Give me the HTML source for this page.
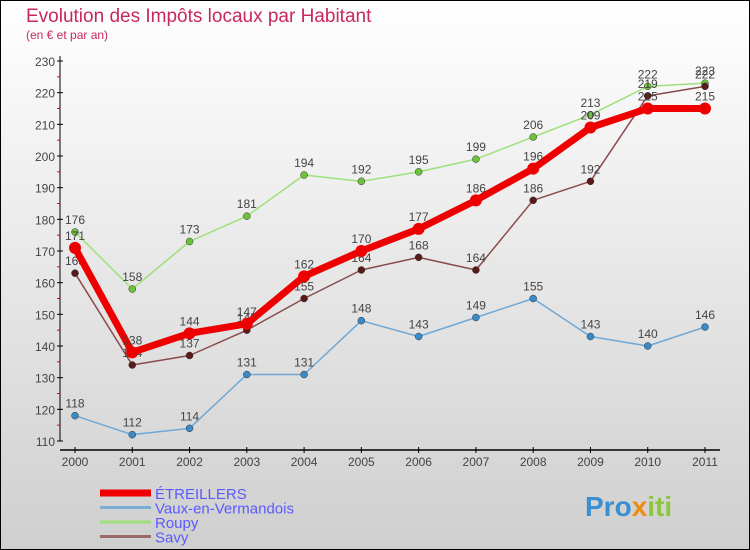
<!DOCTYPE html>
<html><head><meta charset="utf-8"><style>
body{margin:0}
svg{display:block;font-family:"Liberation Sans",sans-serif}
</style></head><body>
<svg id="c" width="750" height="550">
<defs><linearGradient id="bg" x1="0" y1="0" x2="0" y2="1"><stop offset="0" stop-color="#ffffff"/><stop offset="1" stop-color="#cfcfcf"/></linearGradient></defs>
<rect x="0.5" y="0.5" width="749" height="549" fill="url(#bg)" stroke="#000"/>
<text x="26" y="22" font-size="19" fill="#c8285a">Evolution des Impôts locaux par Habitant</text>
<text x="26" y="39" font-size="12" fill="#c8285a">(en € et par an)</text>
<g id="axes"></g><g id="series"></g><g id="legend"></g>
<text x="585" y="516" font-size="28" font-weight="bold" fill="#3a8fd0">Pro<tspan fill="#f08a10">x</tspan><tspan fill="#8cc63f">iti</tspan></text>
</svg>
<script>
const years=[2000,2001,2002,2003,2004,2005,2006,2007,2008,2009,2010,2011];
const yTicks=[110,120,130,140,150,160,170,180,190,200,210,220,230];
const seriesNames=["ÉTREILLERS","Vaux-en-Vermandois","Roupy","Savy"];
const etreillers=[171,138,144,147,162,170,177,186,196,209,215,215];
const vaux=[118,112,114,131,131,148,143,149,155,143,140,146];
const roupy=[176,158,173,181,194,192,195,199,206,213,222,223];
const savy=[163,134,137,145,155,164,168,164,186,192,219,222];
const NS="http://www.w3.org/2000/svg";
const X=i=>75+i*(630/11);
const Y=v=>441-(v-110)*(380/120);
function mk(t,a,p){const e=document.createElementNS(NS,t);for(const k in a)e.setAttribute(k,a[k]);p.appendChild(e);return e;}
const ax=document.getElementById('axes');
const yl=mk('line',{x1:60,y1:56,x2:60,y2:441,stroke:'#000'},ax);


const xl=mk('line',{x1:60,y1:450,x2:720,y2:450,stroke:'#000','stroke-width':1.5},ax);


yTicks.forEach((v,i)=>{
  mk('line',{x1:57,y1:Y(v),x2:63,y2:Y(v),stroke:'#000'},ax);
  if(i<yTicks.length-1)mk('line',{x1:57,y1:Y(v+5),x2:60,y2:Y(v+5),stroke:'#e00'},ax);
  const t=mk('text',{x:55,y:Y(v)+5,'text-anchor':'end','font-size':12,fill:'#444'},ax);
  t.textContent=v;
  
  
});
years.forEach((yr,i)=>{
  mk('line',{x1:X(i),y1:447,x2:X(i),y2:453,stroke:'#000'},ax);
  const t=mk('text',{x:X(i),y:466,'text-anchor':'middle','font-size':12,fill:'#444'},ax);
  t.textContent=yr;
  
  
});
const sg=document.getElementById('series');
const defs=[[vaux,'#6fa8d6','#3a8ac8',1.5,3.5,'vaux'],[roupy,'#9ee07a','#6cc23a',1.5,3.5,'roupy'],[savy,'#8b4a4a','#5a1a1a',1.5,3.5,'savy'],[etreillers,'#ee0000','#ee0000',7,6,'etreillers']];
defs.forEach(([d,lc,pc,w,r,n])=>{
  const g=mk('g',{},sg);
  
  
  const pl=mk('polyline',{points:d.map((v,i)=>X(i)+','+Y(v)).join(' '),fill:'none',stroke:lc,'stroke-width':w,'stroke-linejoin':'round'},g);
  
  
  d.forEach((v,i)=>{
    const c=mk('circle',{cx:X(i),cy:Y(v),r:r,fill:pc,stroke:n=='etreillers'?'none':'#333','stroke-width':0.5},g);
    
    
    const t=mk('text',{x:X(i),y:Y(v)-8,'text-anchor':'middle','font-size':12,fill:'#444'},g);
    t.textContent=v;
    
    
  });
});
const lg=document.getElementById('legend');
const lc=['#ee0000','#7aaed6','#9ee07a','#9a6a6a'],lw=[7,3,3,3];
seriesNames.forEach((s,i)=>{
  const y=493+i*14.5;
  const l=mk('line',{x1:100,y1:y,x2:151,y2:y,stroke:lc[i],'stroke-width':lw[i]},lg);
  
  
  const t=mk('text',{x:155,y:y+6,'font-size':15,fill:'#5a5aff'},lg);
  t.textContent=s;
  
  
});
</script>
</body></html>
